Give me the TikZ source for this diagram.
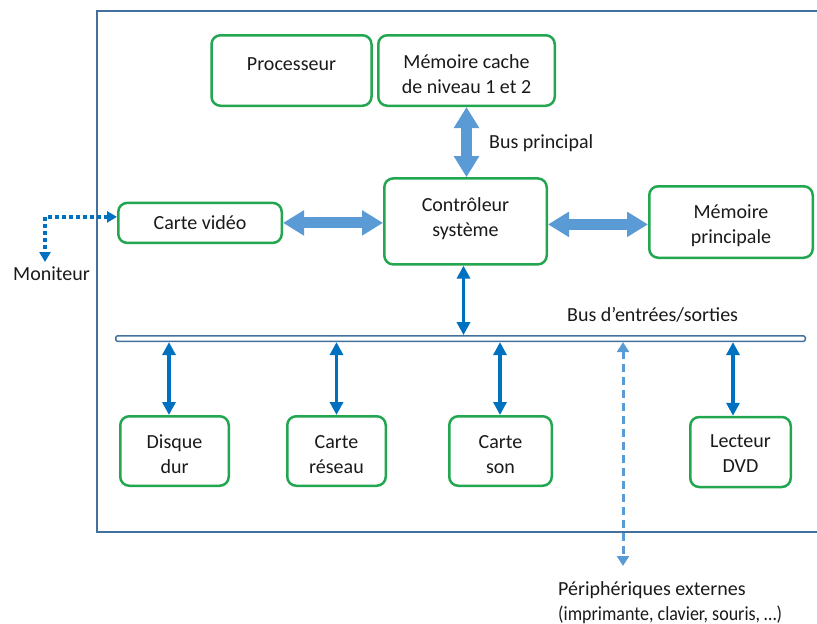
\documentclass[tikz,border=0pt]{standalone}
\usepackage{fontspec}
\setmainfont{Carlito}
\usetikzlibrary{arrows.meta,calc}
\definecolor{boxgreen}{RGB}{35,166,80}
\definecolor{lblue}{HTML}{5B9BD5}
\definecolor{dblue}{HTML}{0070C0}
\definecolor{framec}{HTML}{41719C}
\definecolor{txtc}{HTML}{1A1A1A}
\newcommand\boxtext[2]{\raisebox{#1}[\height][\depth]{\begin{tabular}{@{}c@{}}#2\end{tabular}}}
\begin{document}
\begin{tikzpicture}[x=1pt,y=-1pt,
  every node/.style={font=\fontsize{20}{25}\selectfont, text=txtc},
  gbox/.style={draw=boxgreen, line width=2.5pt, rounded corners=9pt, fill=white, inner sep=0pt},
  blockarr/.style={draw=lblue, line width=11pt, {Triangle[width=24pt,length=21pt]}-{Triangle[width=24pt,length=21pt]}},
  thinarr/.style={draw=dblue, line width=3.8pt, {Triangle[width=13pt,length=13pt]}-{Triangle[width=13pt,length=13pt]}},
  dasharr/.style={draw=lblue, line width=3pt, dash pattern=on 8pt off 5pt, {Triangle[width=12pt,length=10pt]}-{Triangle[width=12pt,length=10pt]}},
  dotarr/.style={draw=dblue, line width=4.5pt, dash pattern=on 4pt off 3pt, {Triangle[width=11pt,length=10pt]}-{Triangle[width=11pt,length=10pt]}},
  lbl/.style={inner sep=0pt}
]
\useasboundingbox (0,0) rectangle (817,624);
\draw[framec, line width=2pt] (817,10.7) -- (97.3,10.7) -- (97.3,532) -- (817,532);

\node[gbox, minimum width=160pt, minimum height=70.5pt] (proc) at (291.5,70.5) {\boxtext{5pt}{Processeur}};
\node[gbox, minimum width=176.5pt, minimum height=70.5pt] (cache) at (466.5,70.5) {\boxtext{-5.7pt}{Mémoire cache\\de niveau 1 et 2}};
\node[gbox, minimum width=162.5pt, minimum height=86pt] (ctrl) at (465.5,221.4) {\boxtext{2.9pt}{Contrôleur\\système}};
\node[gbox, minimum width=163.5pt, minimum height=40pt] (cv) at (200,222.9) {\boxtext{-1.9pt}{Carte vidéo}};
\node[gbox, minimum width=163.5pt, minimum height=71.5pt] (mp) at (731,222) {\boxtext{-3.5pt}{Mémoire\\principale}};
\node[gbox, minimum width=108.5pt, minimum height=69.5pt] (disk) at (174.5,451) {\boxtext{-4.5pt}{Disque\\dur}};
\node[gbox, minimum width=98.5pt, minimum height=69.5pt] (net) at (336.5,451) {\boxtext{-4.5pt}{Carte\\réseau}};
\node[gbox, minimum width=102.5pt, minimum height=69.5pt] (son) at (500.5,451) {\boxtext{-4.5pt}{Carte\\son}};
\node[gbox, minimum width=100.5pt, minimum height=70pt] (dvd) at (740.5,452) {\boxtext{-2.5pt}{Lecteur\\DVD}};

\node[draw=framec, line width=1.5pt, fill=white, rounded corners=1.5pt, minimum width=689.5pt, minimum height=5.5pt, inner sep=0pt] (bus) at (460.5,338.6) {};

\draw[blockarr] (cache.south) -- (cache.south |- ctrl.north);
\draw[blockarr] (cv.east) -- (cv.east -| ctrl.west);
\coordinate (ce) at ([yshift=-3pt]ctrl.east);
\draw[blockarr] (ce) -- (ce -| mp.west);

\coordinate (cs) at ([xshift=-2pt]ctrl.south);
\draw[thinarr] (cs) -- (cs |- bus.north);
\coordinate (d1) at ([xshift=-5.5pt]disk.north);
\coordinate (d2) at (net.north);
\coordinate (d3) at ([xshift=-0.5pt]son.north);
\coordinate (d4) at ([xshift=-7.5pt]dvd.north);
\draw[thinarr] (d1 |- bus.south) -- (d1);
\draw[thinarr] (d2 |- bus.south) -- (d2);
\draw[thinarr] (d3 |- bus.south) -- (d3);
\draw[thinarr] (d4 |- bus.south) -- (d4);

\coordinate (pe) at (623,566);
\draw[dasharr] (pe |- bus.south) -- (pe);

\coordinate (mon) at (45,262);
\draw[dotarr] ([yshift=6pt]cv.west) -| (mon);

\node[lbl, anchor=base west] (monlbl) at (13,280) {Moniteur};
\node[lbl, anchor=base west] (bpl) at (489,148) {Bus principal};
\node[lbl, anchor=base west] (bes) at (567,321) {Bus d’entrées/sorties};
\node[lbl, anchor=base west] (periph) at (558,595) {\begin{tabular}[t]{@{}l@{}}Périphériques externes\\\scalebox{0.9}[1]{(imprimante, clavier, souris, …)}\end{tabular}};
\end{tikzpicture}
\end{document}
